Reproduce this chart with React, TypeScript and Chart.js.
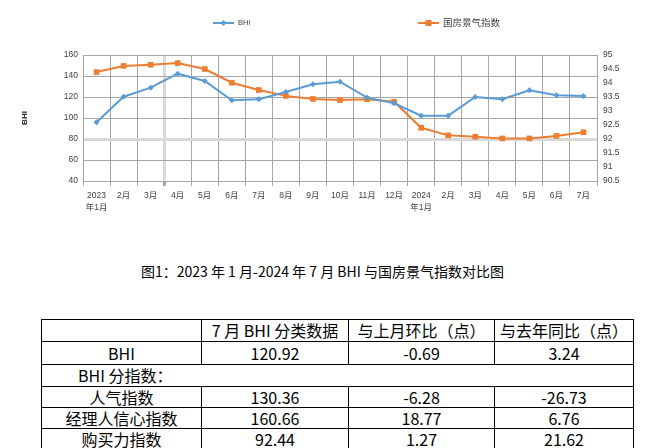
import React, { useEffect, useRef } from 'react';
import { Chart, registerables } from 'chart.js';

Chart.register(...registerables);

// ---- chart data ----
const categories: (string | string[])[] = [
  ['2023', '年1月'], '2月', '3月', '4月', '5月', '6月', '7月', '8月', '9月', '10月', '11月', '12月',
  ['2024', '年1月'], '2月', '3月', '4月', '5月', '6月', '7月',
];
const bhiName = 'BHI';
const bhiValues = [95.9, 120.3, 128.9, 142.2, 135.2, 116.8, 117.8, 124.8, 132.1, 134.6, 119.4, 114.0, 102.2, 102.2, 120.0, 117.8, 126.4, 121.61, 120.92];
const gfName = '国房景气指数';
const gfValues = [94.39, 94.61, 94.65, 94.71, 94.5, 94.01, 93.75, 93.54, 93.43, 93.39, 93.42, 93.33, 92.4, 92.13, 92.08, 92.02, 92.02, 92.11, 92.24];
const leftMin = 40, leftMax = 160, leftStep = 20;
const rightMin = 90.5, rightMax = 95, rightStep = 0.5;
const leftTitle = 'BHI';

// ---- caption & table data ----
const caption = '图1：2023 年 1 月-2024 年 7 月 BHI 与国房景气指数对比图';
const tableHeader = ['', '7 月 BHI 分类数据', '与上月环比（点）', '与去年同比（点）'];
const tableBhiRow = ['BHI', '120.92', '-0.69', '3.24'];
const tableSubTitle = 'BHI 分指数：';
const tableSubRows = [
  ['人气指数', '130.36', '-6.28', '-26.73'],
  ['经理人信心指数', '160.66', '18.77', '6.76'],
  ['购买力指数', '92.44', '1.27', '21.62'],
];

const BLUE = '#5B9BD5';
const ORANGE = '#ED7D31';
const GRID = '#a6a6a6';
const GRID_LIGHT = '#d9d9d9';
const TEXT = '#404040';
const FONT = '"Liberation Sans", "Noto Sans CJK SC", sans-serif';

const legendItems = [
  { name: bhiName, color: BLUE, style: 'diamond', x: 213, y: 23, font: 7.5 },
  { name: gfName, color: ORANGE, style: 'square', x: 418, y: 23, font: 9.5 },
];

const legendPlugin = {
  id: 'customLegend',
  afterDraw(chart: any) {
    const ctx = chart.ctx as CanvasRenderingContext2D;
    ctx.save();
    legendItems.forEach((it) => {
      ctx.strokeStyle = it.color;
      ctx.lineWidth = 2;
      ctx.beginPath();
      ctx.moveTo(it.x, it.y);
      ctx.lineTo(it.x + 21, it.y);
      ctx.stroke();
      ctx.fillStyle = it.color;
      const cx = it.x + 10.5;
      if (it.style === 'diamond') {
        ctx.beginPath();
        ctx.moveTo(cx, it.y - 3);
        ctx.lineTo(cx + 3, it.y);
        ctx.lineTo(cx, it.y + 3);
        ctx.lineTo(cx - 3, it.y);
        ctx.closePath();
        ctx.fill();
      } else {
        ctx.fillRect(cx - 3, it.y - 3, 6, 6);
      }
      ctx.fillStyle = TEXT;
      ctx.font = `${it.font}px ${FONT}`;
      ctx.textBaseline = 'middle';
      ctx.textAlign = 'left';
      ctx.fillText(it.name, it.x + 25, it.y);
    });
    ctx.restore();
  },
};

export default function App() {
  const ref = useRef<HTMLCanvasElement>(null);

  useEffect(() => {
    if (!ref.current) return;
    const chart = new Chart(ref.current, {
      type: 'line',
      data: {
        labels: categories,
        datasets: [
          {
            label: bhiName,
            data: bhiValues,
            yAxisID: 'y',
            borderColor: BLUE,
            backgroundColor: BLUE,
            borderWidth: 2,
            pointStyle: 'rectRot',
            pointRadius: 3,
            pointBorderWidth: 0,
            tension: 0,
          },
          {
            label: gfName,
            data: gfValues,
            yAxisID: 'y1',
            borderColor: ORANGE,
            backgroundColor: ORANGE,
            borderWidth: 2,
            pointStyle: 'rect',
            pointRadius: 4,
            pointBorderWidth: 0,
            tension: 0,
          },
        ],
      },
      options: {
        responsive: false,
        maintainAspectRatio: false,
        animation: false,
        layout: { padding: { left: 0, right: 0, top: 55, bottom: 0 } },
        plugins: {
          legend: { display: false },
          tooltip: { enabled: false },
        },
        scales: {
          x: {
            offset: true,
            afterFit: (s: any) => { s.height = 44; },
            grid: {
              offset: true,
              drawTicks: true,
              tickLength: 5,
              color: (c: any) => (c.index === 3 ? GRID_LIGHT : GRID),
              tickColor: GRID,
              lineWidth: (c: any) => (c.index === 3 ? 3 : 1),
            },
            border: { display: true, color: GRID },
            ticks: {
              color: TEXT,
              padding: 4,
              maxRotation: 0,
              autoSkip: false,
              font: { family: FONT, size: 8.5, lineHeight: 1.4 },
            },
          },
          y: {
            position: 'left',
            min: leftMin,
            max: leftMax,
            afterFit: (s: any) => { s.width = 83; },
            grid: {
              drawTicks: false,
              color: (c: any) => (c.tick && c.tick.value === 80 ? GRID_LIGHT : GRID),
              lineWidth: (c: any) => (c.tick && c.tick.value === 80 ? 3 : 1),
            },
            border: { display: true, color: GRID },
            ticks: {
              stepSize: leftStep,
              color: TEXT,
              padding: 5,
              font: { family: FONT, size: 8.5 },
            },
            title: {
              display: true,
              text: leftTitle,
              color: '#222',
              padding: { top: 20, bottom: 0 },
              font: { family: FONT, size: 8, weight: 'bold' },
            },
          },
          y1: {
            position: 'right',
            min: rightMin,
            max: rightMax,
            afterFit: (s: any) => { s.width = 75; },
            grid: { drawOnChartArea: false, drawTicks: false },
            border: { display: true, color: GRID },
            ticks: {
              stepSize: rightStep,
              color: TEXT,
              padding: 6,
              font: { family: FONT, size: 8.5 },
              callback: (v: any) => String(Math.round(Number(v) * 10) / 10),
            },
          },
        },
      },
      plugins: [legendPlugin],
    } as any);
    return () => chart.destroy();
  }, []);

  const cell: React.CSSProperties = {
    border: '1px solid #000',
    textAlign: 'center',
    padding: 0,
    whiteSpace: 'nowrap',
    overflow: 'hidden',
  };

  return (
    <div style={{ position: 'absolute', left: 0, top: 0, width: 672, height: 448, overflow: 'hidden', background: '#fff' }}>
      <canvas ref={ref} width={672} height={225} style={{ position: 'absolute', left: 0, top: 0, width: 672, height: 225 }} />
      <div
        style={{
          position: 'absolute', left: 141, top: 262, width: 400, whiteSpace: 'nowrap',
          fontFamily: '"Noto Sans CJK SC", sans-serif', fontSize: 14, lineHeight: '18px', color: '#000',
        }}
      >
        {caption}
      </div>
      <table
        style={{
          position: 'absolute', left: 41, top: 319, width: 592, borderCollapse: 'collapse', tableLayout: 'fixed',
          fontFamily: '"Noto Sans CJK SC", sans-serif', fontSize: 16, lineHeight: '19px', color: '#000',
        }}
      >
        <colgroup>
          <col style={{ width: 160 }} />
          <col style={{ width: 147 }} />
          <col style={{ width: 146 }} />
          <col style={{ width: 139 }} />
        </colgroup>
        <tbody>
          <tr style={{ height: 22 }}>
            {tableHeader.map((t, i) => <td key={i} style={cell}>{t}</td>)}
          </tr>
          <tr style={{ height: 23 }}>
            {tableBhiRow.map((t, i) => <td key={i} style={cell}>{t}</td>)}
          </tr>
          <tr style={{ height: 22 }}>
            <td colSpan={4} style={{ ...cell, textAlign: 'left', paddingLeft: 36 }}>{tableSubTitle}</td>
          </tr>
          {tableSubRows.map((r, ri) => (
            <tr key={ri} style={{ height: 21 }}>
              {r.map((t, i) => <td key={i} style={cell}>{t}</td>)}
            </tr>
          ))}
        </tbody>
      </table>
    </div>
  );
}
